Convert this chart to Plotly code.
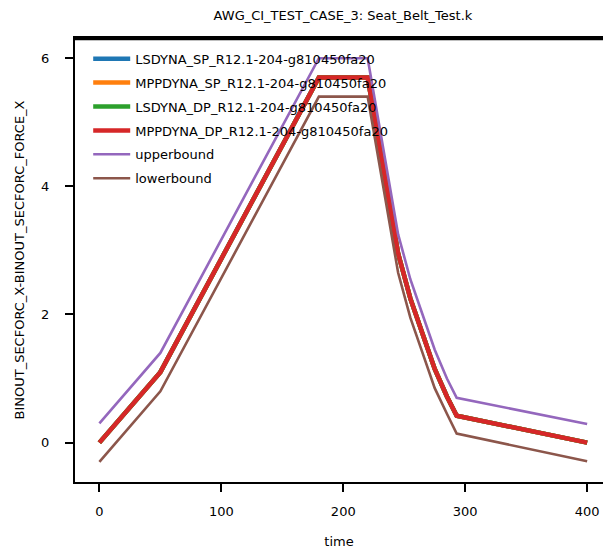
import plotly.graph_objects as go

time = [0, 50, 180, 220, 245, 255, 265, 275, 285, 293, 400]
lsdyna_sp = [0.0, 1.1, 5.7, 5.7, 2.95, 2.25, 1.7, 1.15, 0.72, 0.42, 0.0]
mppdyna_sp = [0.0, 1.1, 5.7, 5.7, 2.95, 2.25, 1.7, 1.15, 0.72, 0.42, 0.0]
lsdyna_dp = [0.0, 1.1, 5.7, 5.7, 2.95, 2.25, 1.7, 1.15, 0.72, 0.42, 0.0]
mppdyna_dp = [0.0, 1.1, 5.7, 5.7, 2.95, 2.25, 1.7, 1.15, 0.72, 0.42, 0.0]
upperbound = [0.3, 1.4, 6.0, 6.0, 3.25, 2.55, 2.0, 1.45, 1.0, 0.70, 0.29]
lowerbound = [-0.3, 0.8, 5.4, 5.4, 2.65, 1.95, 1.4, 0.85, 0.45, 0.14, -0.29]

series = [
    ("LSDYNA_SP_R12.1-204-g810450fa20", lsdyna_sp, "#1f77b4", 4.5),
    ("MPPDYNA_SP_R12.1-204-g810450fa20", mppdyna_sp, "#ff7f0e", 4.5),
    ("LSDYNA_DP_R12.1-204-g810450fa20", lsdyna_dp, "#2ca02c", 4.5),
    ("MPPDYNA_DP_R12.1-204-g810450fa20", mppdyna_dp, "#d62728", 4.5),
    ("upperbound", upperbound, "#9467bd", 2.6),
    ("lowerbound", lowerbound, "#8c564b", 2.6),
]

fig = go.Figure()
for i, (name, vals, color, w) in enumerate(series):
    fig.add_trace(go.Scatter(x=time, y=vals, mode="lines", name=name,
                             legendgroup=str(i),
                             line=dict(color=color, width=w)))

font = dict(family="DejaVu Sans", size=13, color="black")
fig.update_layout(
    width=603, height=554,
    margin=dict(l=75, r=0, t=38, b=72),
    paper_bgcolor="white", plot_bgcolor="white",
    font=font,
    title=dict(text="AWG_CI_TEST_CASE_3: Seat_Belt_Test.k", x=343 / 603, xanchor="center",
               y=1 - 15 / 554, yanchor="middle", font=dict(family="DejaVu Sans", size=13)),
    showlegend=True,
    legend=dict(x=0.025, y=0.987, xanchor="left", yanchor="top", bgcolor="rgba(0,0,0,0)",
                tracegroupgap=4, itemwidth=37,
                font=dict(family="DejaVu Sans", size=13), traceorder="grouped"),
    xaxis=dict(range=[-20, 413], tickvals=[0, 100, 200, 300, 400], showgrid=False, zeroline=False,
               showline=True, linecolor="black", linewidth=2, mirror=True, automargin=False,
               ticks="outside", ticklen=8, tickwidth=2, tickcolor="black", ticklabelstandoff=8,
               title=dict(text="time", standoff=19, font=font)),
    yaxis=dict(range=[-0.615, 6.315], tickvals=[0, 2, 4, 6], showgrid=False, zeroline=False,
               showline=True, linecolor="black", linewidth=2, automargin=False,
               ticks="outside", ticklen=8, tickwidth=2, tickcolor="black", ticklabelstandoff=13,
               title=dict(text="BINOUT_SECFORC_X-BINOUT_SECFORC_FORCE_X", standoff=14, font=font)),
    shapes=[dict(type="line", xref="paper", yref="paper", x0=0, x1=1, y0=0.998, y1=0.998,
                 line=dict(color="black", width=2.5), layer="above")],
)

fig.write_html("out.html", config={"displayModeBar": False},
               post_script="document.body.style.margin='0';document.body.style.padding='0';")
